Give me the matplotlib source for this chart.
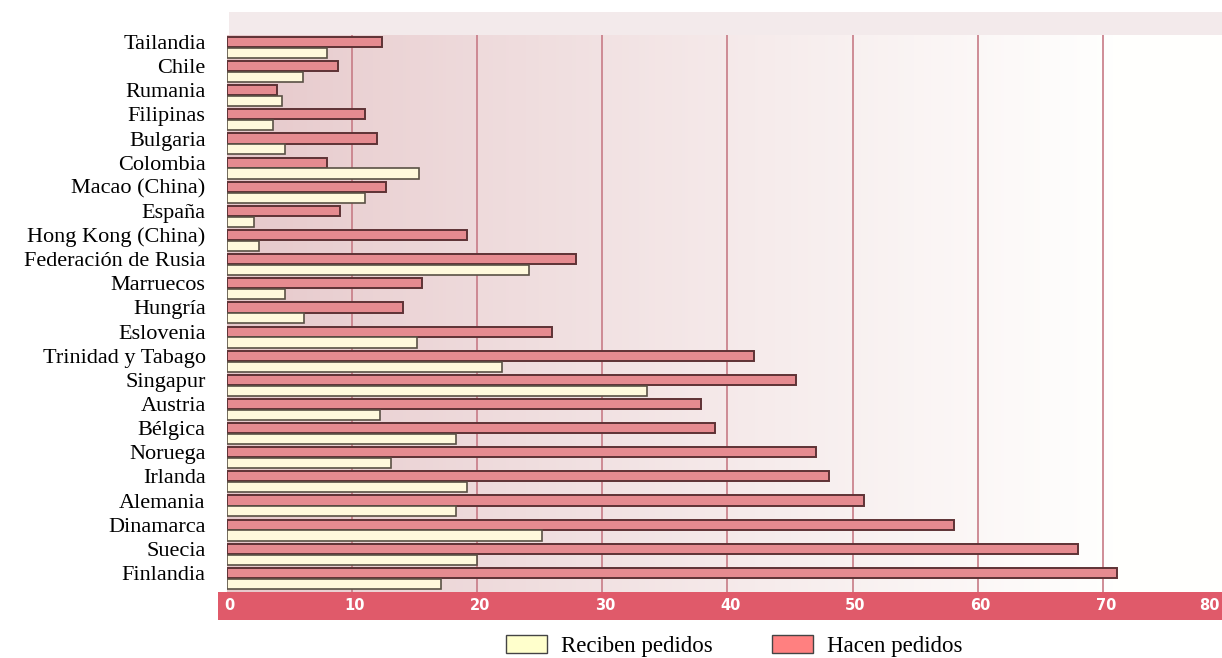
import numpy as np
import matplotlib.pyplot as plt
from matplotlib.patches import Rectangle, Patch

# Países (de arriba a abajo) y porcentajes
paises = ["Tailandia", "Chile", "Rumania", "Filipinas", "Bulgaria", "Colombia",
          "Macao (China)", "España", "Hong Kong (China)", "Federación de Rusia",
          "Marruecos", "Hungría", "Eslovenia", "Trinidad y Tabago", "Singapur",
          "Austria", "Bélgica", "Noruega", "Irlanda", "Alemania", "Dinamarca",
          "Suecia", "Finlandia"]
hacen = [12.4, 8.9, 4.0, 11.1, 12.0, 8.0, 12.7, 9.1, 19.2, 27.9, 15.6, 14.1,
         26.0, 42.1, 45.5, 37.9, 39.0, 47.1, 48.1, 50.9, 58.1, 68.0, 71.1]
reciben = [8.0, 6.1, 4.4, 3.7, 4.7, 15.4, 11.1, 2.2, 2.6, 24.2, 4.7, 6.2,
           15.2, 22.0, 33.6, 12.3, 18.3, 13.1, 19.2, 18.3, 25.2, 20.0, 17.1]
ticks_x = [0, 10, 20, 30, 40, 50, 60, 70, 80]

W, H = 1222, 658
fig = plt.figure(figsize=(W / 100, H / 100), dpi=100)
fig.patch.set_facecolor("white")

x0, x1 = 226.5, 1222
y_top, y_bot = 35, 592
ax = fig.add_axes([x0 / W, 1 - y_bot / H, (x1 - x0) / W, (y_bot - y_top) / H])
xmax = (x1 - x0) / 12.52
n = len(paises)
ax.set_xlim(0, xmax)
ax.set_ylim(22.79, -0.29)

# fondo degradado rosa -> blanco
grad = np.linspace(0, 1, 300)
c0 = np.array([0.90, 0.78, 0.79])
c1 = np.array([1.0, 1.0, 0.995])
t = np.clip(grad * 1.12, 0, 1) ** 0.85
img = (c0[None, :] * (1 - t[:, None]) + c1[None, :] * t[:, None])[None, :, :]
ax.imshow(img, extent=[0, xmax, 22.79, -0.29], aspect="auto", zorder=0)

# franja superior y banda del eje
fig.patches.append(Rectangle((229 / W, 1 - y_top / H), (W - 229) / W, 23 / H,
                             transform=fig.transFigure, facecolor="#f3eaeb",
                             edgecolor="none", zorder=0))
fig.patches.append(Rectangle((218 / W, 1 - 620 / H), (W - 218) / W, 28 / H,
                             transform=fig.transFigure, facecolor="#e05a6a",
                             edgecolor="none", zorder=0))

for v in ticks_x[1:]:
    ax.axvline(v, color="#c77b86", lw=1.2, zorder=1)

y = np.arange(n)
h = 0.42
ax.barh(y, hacen, height=h, color="#e58b90", edgecolor="#5e3235", lw=1.4, zorder=3)
ax.barh(y + 0.45, reciben, height=h, color="#fff9dc", edgecolor="#5a5145", lw=1.2, zorder=3)

for s in ax.spines.values():
    s.set_visible(False)
ax.set_xticks([])
ax.set_yticks(y)
ax.set_yticklabels(paises, family="Liberation Serif", fontsize=16)
ax.tick_params(axis="y", length=0, pad=15)

# etiquetas del eje x sobre la banda roja; el 80 se pega al borde derecho
for v in ticks_x:
    px = x0 + v * 12.52 + 3
    ha = "center"
    if px > W - 12:
        px, ha = W - 2, "right"
    fig.text(px / W, 1 - 606 / H, str(v), color="white",
             fontsize=10.5, fontweight="bold", ha=ha, va="center",
             family="DejaVu Sans")

handles = [Patch(facecolor="#ffffcc", edgecolor="#444444", label="Reciben pedidos"),
           Patch(facecolor="#ff8080", edgecolor="#444444", label="Hacen pedidos")]
fig.legend(handles=handles, loc="center", bbox_to_anchor=(734 / W, 1 - 646 / H),
           ncol=2, frameon=False, prop={"family": "Liberation Serif", "size": 16.5},
           handlelength=1.8, handleheight=0.85, columnspacing=2.6, handletextpad=0.6)

fig.savefig("out.png", dpi=100)
